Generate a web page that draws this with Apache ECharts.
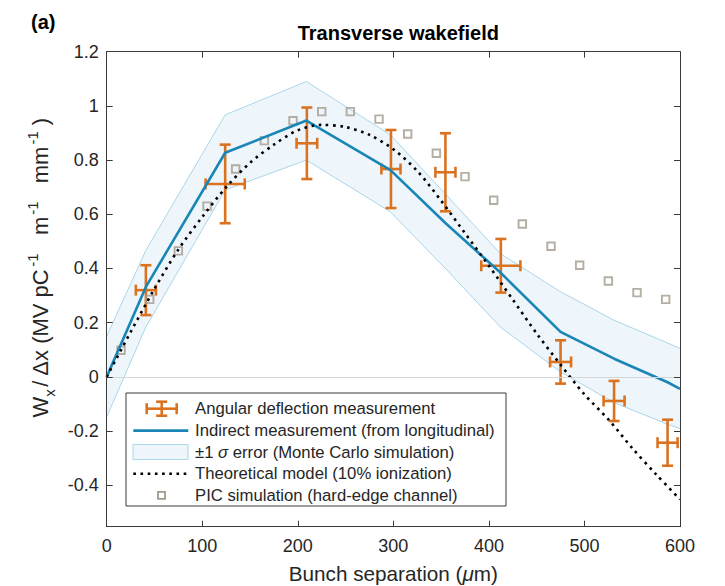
<!DOCTYPE html>
<html><head><meta charset="utf-8">
<script src="https://cdn.jsdelivr.net/npm/echarts@6/dist/echarts.min.js"></script>
<style>html,body{margin:0;padding:0;background:#fff}#c{width:725px;height:586px}</style>
</head><body><div id="c"></div>
<script>
// ---- data ----
const measX = [41, 124, 209.5, 297.5, 354.5, 412.5, 475, 531, 587];
const measY = [0.32, 0.712, 0.862, 0.767, 0.755, 0.41, 0.055, -0.089, -0.243];
const measXErr = [10.5, 20.5, 10.8, 10, 10.5, 20.5, 11, 11, 10.5];
const measYErr = [0.092, 0.145, 0.132, 0.144, 0.144, 0.099, 0.08, 0.074, 0.085];

const indirectX = [0, 41, 124, 209, 297, 355, 412, 475, 531, 587, 600];
const indirectY = [0, 0.332, 0.827, 0.946, 0.763, 0.566, 0.385, 0.166, 0.067, -0.02, -0.044];
const bandUpper = [0.15, 0.467, 0.967, 1.09, 0.893, 0.673, 0.455, 0.314, 0.209, 0.125, 0.105];
const bandLower = [-0.148, 0.184, 0.69, 0.80, 0.609, 0.398, 0.184, 0.018, -0.095, -0.175, -0.191];

const theoryX = [0,25,50,75,100,125,150,175,200,225,250,275,300,325,350,375,400,425,450,475,500,525,550,575,600];
const theoryY = [0,0.165,0.325,0.47,0.59,0.70,0.79,0.857,0.91,0.93,0.922,0.893,0.84,0.76,0.65,0.53,0.41,0.285,0.16,0.045,-0.065,-0.157,-0.263,-0.36,-0.452];

const picX = [15,45,75,105,135,165,195,225,255,285,315,345,375,405,435,465,495,525,555,585];
const picY = [0.098,0.286,0.465,0.630,0.767,0.872,0.945,0.979,0.979,0.951,0.896,0.825,0.739,0.652,0.564,0.482,0.412,0.354,0.311,0.286];

const xTicks = [0, 100, 200, 300, 400, 500, 600];
const yTicks = [-0.4, -0.2, 0, 0.2, 0.4, 0.6, 0.8, 1, 1.2];

const legendLabels = [
  'Angular deflection measurement',
  'Indirect measurement (from longitudinal)',
  '\u00b11 {i|\u03c3} error (Monte Carlo simulation)',
  'Theoretical model (10% ionization)',
  'PIC simulation (hard-edge channel)'
];
const titleText = 'Transverse wakefield';
const panelLabel = '(a)';

// ---- styles ----
const FONT = '"Liberation Sans", Arial, Helvetica, sans-serif';
const TXT = '#262626';
const AX = '#3a3a3a';
const ORANGE = '#DA7220';
const BLUE = '#1A86B6';
const BAND_FILL = '#EEF6FC';
const BAND_EDGE = '#A9D6EA';
const PIC = '#A39A8C';

const chart = echarts.init(document.getElementById('c'), null, {renderer: 'svg', width: 725, height: 586});

function renderBand(params, api) {
  if (params.dataIndex !== 0) return null;
  const up = [], lo = [];
  for (let i = 0; i < indirectX.length; i++) {
    up.push(api.coord([indirectX[i], bandUpper[i]]));
    lo.push(api.coord([indirectX[i], bandLower[i]]));
  }
  const poly = up.concat(lo.slice().reverse());
  return {type: 'group', children: [
    {type: 'polygon', shape: {points: poly}, style: {fill: BAND_FILL, stroke: null}},
    {type: 'polyline', shape: {points: up}, style: {fill: null, stroke: BAND_EDGE, lineWidth: 1}},
    {type: 'polyline', shape: {points: lo}, style: {fill: null, stroke: BAND_EDGE, lineWidth: 1}}
  ]};
}

function renderErr(params, api) {
  const x = api.value(0), y = api.value(1), ex = api.value(2), ey = api.value(3);
  const t = api.coord([x, y + ey]), b = api.coord([x, y - ey]);
  const l = api.coord([x - ex, y]), r = api.coord([x + ex, y]);
  const cap = 5.5;
  const st = {stroke: ORANGE, lineWidth: 2.6, fill: null};
  const ln = (x1, y1, x2, y2) => ({type: 'line', shape: {x1, y1, x2, y2}, style: st});
  return {type: 'group', children: [
    ln(t[0], t[1], b[0], b[1]),
    ln(t[0] - cap, t[1], t[0] + cap, t[1]),
    ln(b[0] - cap, b[1], b[0] + cap, b[1]),
    ln(l[0], l[1], r[0], r[1]),
    ln(l[0], l[1] - cap, l[0], l[1] + cap),
    ln(r[0], r[1] - cap, r[0], r[1] + cap)
  ]};
}

const axisCommon = {
  axisLine: {show: true, onZero: false, lineStyle: {color: AX, width: 1}},
  splitLine: {show: false},
  z: 5
};

// legend drawn as graphic
const rowY = [408.7, 430.6, 452.5, 473.8, 495.3];
const LZ = 100;
const legendEls = [
  {type: 'rect', shape: {x: 126, y: 393, width: 380, height: 113}, style: {fill: '#fff', stroke: AX, lineWidth: 1}, z: LZ},
  {type: 'line', shape: {x1: 146.7, y1: rowY[0], x2: 176.7, y2: rowY[0]}, style: {stroke: ORANGE, lineWidth: 2.6}, z: LZ},
  {type: 'line', shape: {x1: 146.7, y1: rowY[0] - 5.5, x2: 146.7, y2: rowY[0] + 5.5}, style: {stroke: ORANGE, lineWidth: 2.6}, z: LZ},
  {type: 'line', shape: {x1: 176.7, y1: rowY[0] - 5.5, x2: 176.7, y2: rowY[0] + 5.5}, style: {stroke: ORANGE, lineWidth: 2.6}, z: LZ},
  {type: 'line', shape: {x1: 161.7, y1: rowY[0] - 7, x2: 161.7, y2: rowY[0] + 7}, style: {stroke: ORANGE, lineWidth: 2.6}, z: LZ},
  {type: 'line', shape: {x1: 156.2, y1: rowY[0] - 7, x2: 167.2, y2: rowY[0] - 7}, style: {stroke: ORANGE, lineWidth: 2.6}, z: LZ},
  {type: 'line', shape: {x1: 156.2, y1: rowY[0] + 7, x2: 167.2, y2: rowY[0] + 7}, style: {stroke: ORANGE, lineWidth: 2.6}, z: LZ},
  {type: 'line', shape: {x1: 133.3, y1: rowY[1], x2: 188.3, y2: rowY[1]}, style: {stroke: BLUE, lineWidth: 2.6}, z: LZ},
  {type: 'rect', shape: {x: 133, y: rowY[2] - 8, width: 55, height: 15}, style: {fill: BAND_FILL, stroke: BAND_EDGE, lineWidth: 1}, z: LZ},
  {type: 'line', shape: {x1: 133.3, y1: rowY[3], x2: 188.3, y2: rowY[3]}, style: {stroke: '#000', lineWidth: 2.6, lineDash: [2.6, 4.6]}, z: LZ},
  {type: 'rect', shape: {x: 158, y: rowY[4] - 3.5, width: 7, height: 7}, style: {fill: null, stroke: PIC, lineWidth: 1.8}, z: LZ}
];
legendLabels.forEach((s, i) => {
  legendEls.push({type: 'text', x: 195, y: rowY[i], z: LZ,
    style: {text: s, fill: TXT, fontSize: 16.7, fontFamily: FONT, align: 'left', verticalAlign: 'middle',
      rich: {i: {fontStyle: 'italic', fontSize: 16.7, fontFamily: FONT, fill: TXT}}}});
});

const option = {
  backgroundColor: '#fff',
  animation: false,
  title: [
    {text: titleText, left: 393.3, top: 18, textAlign: 'center',
     textStyle: {fontFamily: FONT, fontSize: 20, fontWeight: 'bold', color: '#000'}},
    {text: panelLabel, left: 26, top: 7,
     textStyle: {fontFamily: FONT, fontSize: 20, fontWeight: 'bold', color: '#000'}}
  ],
  grid: {left: 106.7, right: 45, top: 51.7, bottom: 59.3, containLabel: false, outerBoundsMode: 'none'},
  xAxis: [
    Object.assign({type: 'value', min: 0, max: 600, interval: 100, position: 'bottom',
      axisTick: {show: true, inside: true, length: 6, lineStyle: {color: AX}},
      axisLabel: {fontSize: 18, color: TXT, fontFamily: FONT, margin: 10, customValues: xTicks},
      name: '{n|Bunch separation (}{i|\u03bc}{n|m)}', nameLocation: 'middle', nameGap: 36,
      nameTextStyle: {rich: {
        n: {fontSize: 20.7, fontFamily: FONT, color: TXT},
        i: {fontSize: 20.7, fontFamily: FONT, color: TXT, fontStyle: 'italic'}}}
    }, axisCommon),
    Object.assign({type: 'value', min: 0, max: 600, interval: 100, position: 'top',
      axisTick: {show: true, inside: true, length: 6, lineStyle: {color: AX}},
      axisLabel: {show: false}}, axisCommon)
  ],
  yAxis: [
    Object.assign({type: 'value', min: -0.553, max: 1.2, position: 'left',
      axisTick: {show: true, inside: true, length: 6, customValues: yTicks, lineStyle: {color: AX}},
      axisLabel: {fontSize: 18, color: TXT, fontFamily: FONT, margin: 8, customValues: yTicks,
        formatter: v => String(Math.round(v * 10) / 10)},
      name: '{n|W}{sub|x}{n|/ \u0394x (MV pC}{sup|-1}{n|  m}{sup|-1}{n|  mm}{sup|-1}{n|)}',
      nameLocation: 'middle', nameRotate: 90, nameGap: 50,
      nameTextStyle: {padding: [0, 0, 0, 43], rich: {
        n: {fontSize: 22, fontFamily: FONT, color: TXT, lineHeight: 32},
        sup: {fontSize: 15, fontFamily: FONT, color: TXT, verticalAlign: 'top', lineHeight: 20, padding: [0, 6, 0, 2]},
        sub: {fontSize: 15, fontFamily: FONT, color: TXT, verticalAlign: 'bottom', lineHeight: 17, padding: [0, 2, 0, 0]}}}
    }, axisCommon),
    Object.assign({type: 'value', min: -0.553, max: 1.2, position: 'right',
      axisTick: {show: true, inside: true, length: 6, customValues: yTicks, lineStyle: {color: AX}},
      axisLabel: {show: false}}, axisCommon)
  ],
  graphic: legendEls,
  series: [
    {type: 'custom', name: 'band', renderItem: renderBand, clip: true,
     data: indirectX.map((x, i) => [x, bandLower[i], bandUpper[i]]),
     encode: {x: 0, y: [1, 2]}, silent: true,
     markLine: {silent: true, symbol: 'none', label: {show: false},
       lineStyle: {color: '#D6D6D6', width: 1, type: 'solid'}, data: [{yAxis: 0}]}},
    {type: 'line', name: 'indirect', data: indirectX.map((x, i) => [x, indirectY[i]]),
     symbol: 'none', lineStyle: {color: BLUE, width: 2.6}, silent: true},
    {type: 'line', name: 'theory', data: theoryX.map((x, i) => [x, theoryY[i]]),
     symbol: 'none', smooth: 0.3, lineStyle: {color: '#000', width: 2.6, type: [2.6, 4.6], cap: 'butt'}, silent: true},
    {type: 'scatter', name: 'pic', data: picX.map((x, i) => [x, picY[i]]),
     symbol: 'rect', symbolSize: 7.5, itemStyle: {color: 'rgba(0,0,0,0)', borderColor: PIC, borderWidth: 1.9}, silent: true},
    {type: 'custom', name: 'meas', renderItem: renderErr, clip: false,
     data: measX.map((x, i) => [x, measY[i], measXErr[i], measYErr[i]]),
     encode: {x: 0, y: 1}, silent: true}
  ]
};
chart.setOption(option);
</script>
</body></html>
